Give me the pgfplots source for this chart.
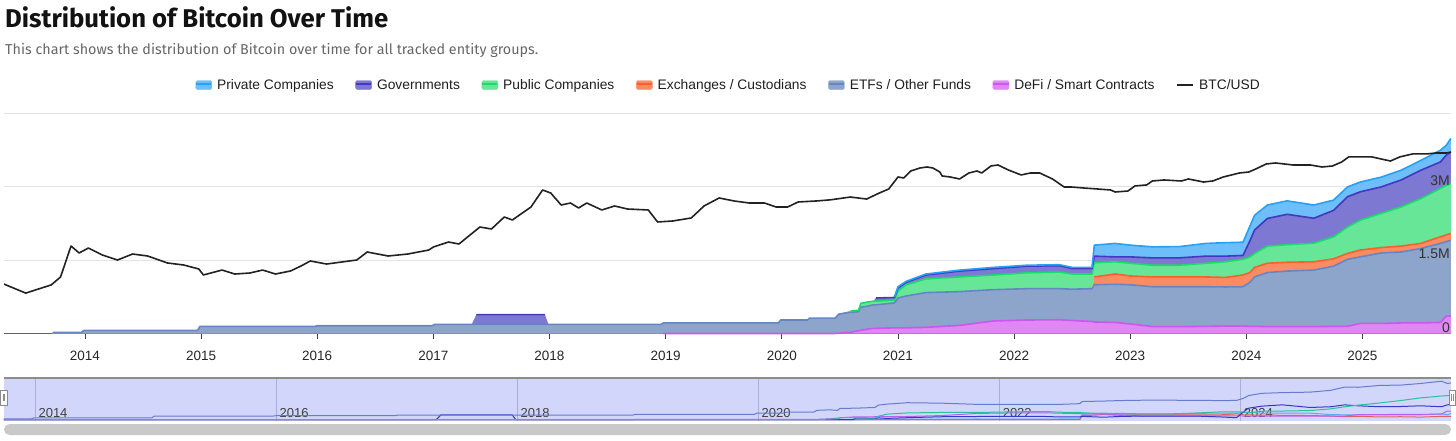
\documentclass[border=0pt]{standalone}
\usepackage{fontspec}
\setmainfont{Liberation Sans}
\newfontfamily\titlefont{Fira Sans}
\usepackage{graphicx}
\usepackage{pgfplots}
\pgfplotsset{compat=1.18}
\usepackage{pgfplotstable}

% entity holdings in million BTC, one column per group (stacked bottom to top)
\pgfplotstableread{
year     defi   etf    exch   pub    gov    priv
2013.715 0      0      0      0      0      0
2013.725 0      0.027  0      0      0      0
2013.97  0      0.027  0      0      0      0
2013.99  0      0.067  0      0      0      0
2014.97  0      0.067  0      0      0      0
2014.99  0      0.15   0      0      0      0
2015.98  0      0.15   0      0      0      0
2016.00  0      0.163  0      0      0      0
2016.99  0      0.163  0      0      0      0
2017.01  0      0.19   0      0      0      0
2017.33  0      0.19   0      0      0      0
2017.37  0      0.19   0      0      0.20   0
2017.96  0      0.19   0      0      0.20   0
2017.99  0      0.19   0      0      0      0
2018.96  0      0.19   0      0      0      0
2018.98  0.005  0.215  0      0      0      0
2019.97  0.005  0.215  0      0      0      0
2019.99  0.005  0.275  0      0      0      0
2020.22  0.005  0.275  0      0      0      0
2020.24  0.005  0.315  0      0      0      0
2020.46  0.005  0.315  0      0      0      0
2020.49  0.01   0.39   0      0      0      0
2020.59  0.03   0.41   0      0.02   0      0
2020.66  0.06   0.39   0      0.03   0      0
2020.68  0.07   0.47   0      0.08   0      0
2020.73  0.09   0.47   0      0.085  0      0
2020.79  0.11   0.48   0      0.075  0      0
2020.81  0.11   0.48   0      0.075  0.065  0
2020.97  0.12   0.51   0      0.06   0.05   0.01
2021.00  0.12   0.61   0      0.14   0.07   0.02
2021.07  0.12   0.65   0      0.23   0.05   0.02
2021.24  0.13   0.71   0      0.28   0.08   0.02
2021.53  0.17   0.69   0      0.30   0.12   0.02
2021.82  0.26   0.64   0      0.30   0.13   0.025
2022.11  0.28   0.64   0      0.325  0.135  0.02
2022.39  0.285  0.635  0      0.34   0.13   0.02
2022.50  0.27   0.64   0      0.31   0.11   0.025
2022.67  0.25   0.67   0      0.30   0.11   0.025
2022.69  0.24   0.76   0.16   0.29   0.135  0.225
2022.87  0.23   0.78   0.21   0.25   0.10   0.275
2023.00  0.20   0.80   0.18   0.26   0.13   0.24
2023.19  0.145  0.815  0.20   0.24   0.15   0.225
2023.42  0.145  0.815  0.20   0.24   0.15   0.23
2023.65  0.15   0.81   0.20   0.28   0.145  0.26
2023.82  0.155  0.80   0.195  0.32   0.115  0.275
2023.97  0.155  0.805  0.24   0.32   0.08   0.27
2024.03  0.15   0.90   0.20   0.32   0.33   0.30
2024.07  0.15   1.01   0.195  0.285  0.48   0.30
2024.18  0.145  1.105  0.19   0.35   0.565  0.275
2024.35  0.145  1.135  0.18   0.36   0.62   0.275
2024.58  0.145  1.155  0.17   0.38   0.51   0.27
2024.75  0.15   1.23   0.15   0.45   0.54   0.21
2024.87  0.15   1.37   0.12   0.54   0.62   0.20
2024.98  0.21   1.36   0.14   0.61   0.58   0.20
2025.16  0.21   1.44   0.11   0.70   0.54   0.20
2025.33  0.22   1.45   0.12   0.80   0.55   0.20
2025.50  0.22   1.52   0.105  0.915  0.58   0.20
2025.67  0.23   1.615  0.135  0.99   0.54   0.24
2025.72  0.36   1.52   0.14   1.01   0.62   0.20
2025.76  0.36   1.55   0.14   1.02   0.64   0.28
}\stackdata

% BTC/USD price
\pgfplotstableread{
year    price
2013.30 97
2013.49 58
2013.71 92
2013.79 144
2013.88 826
2013.95 557
2014.03 738
2014.15 498
2014.28 375
2014.41 526
2014.54 470
2014.71 317
2014.85 283
2014.98 226
2015.02 161
2015.18 213
2015.29 170
2015.42 180
2015.53 213
2015.64 170
2015.77 202
2015.86 267
2015.94 355
2016.08 299
2016.34 375
2016.43 589
2016.61 470
2016.78 526
2016.96 659
2017.00 782
2017.13 1035
2017.22 925
2017.40 2415
2017.50 2158
2017.61 4246
2017.68 3589
2017.84 7464
2017.94 19500
2018.01 16450
2018.10 8356
2018.18 9354
2018.25 7063
2018.32 9354
2018.45 6310
2018.56 7907
2018.67 6668
2018.85 6310
2018.93 3206
2019.06 3390
2019.22 4018
2019.33 7907
2019.46 12415
2019.59 10470
2019.72 9354
2019.85 9354
2019.95 7464
2020.05 7464
2020.14 9908
2020.30 10500
2020.42 11200
2020.53 12400
2020.59 13100
2020.73 11700
2020.84 16500
2020.92 20600
2021.00 40600
2021.05 38400
2021.11 57000
2021.19 67500
2021.25 71400
2021.30 67500
2021.36 53800
2021.38 43000
2021.45 40600
2021.53 36300
2021.61 50900
2021.68 57000
2021.72 50900
2021.80 75500
2021.86 80000
2021.95 60300
2022.06 45500
2022.14 50900
2022.22 50900
2022.33 36300
2022.43 23100
2022.49 23100
2022.60 21800
2022.72 20600
2022.83 19500
2022.87 17400
2022.98 18400
2023.04 24500
2023.14 25900
2023.19 32400
2023.29 34300
2023.44 32400
2023.50 36300
2023.63 30600
2023.71 32400
2023.80 40600
2023.94 50900
2024.02 53800
2024.08 63800
2024.17 84600
2024.25 89500
2024.40 80000
2024.55 80000
2024.65 71400
2024.74 75500
2024.82 94800
2024.88 126000
2025.01 126000
2025.08 126000
2025.16 112000
2025.24 100000
2025.32 126000
2025.43 149000
2025.55 149000
2025.63 157000
2025.72 157000
2025.76 166000
}\btcdata

\definecolor{privfill}{RGB}{110,190,250}
\definecolor{privedge}{RGB}{40,160,245}
\definecolor{govfill}{RGB}{125,120,210}
\definecolor{govedge}{RGB}{70,55,195}
\definecolor{pubfill}{RGB}{102,230,150}
\definecolor{pubedge}{RGB}{25,220,105}
\definecolor{exchfill}{RGB}{250,140,100}
\definecolor{exchedge}{RGB}{250,95,45}
\definecolor{etffill}{RGB}{141,165,202}
\definecolor{etfedge}{RGB}{100,135,195}
\definecolor{defifill}{RGB}{225,135,245}
\definecolor{defiedge}{RGB}{205,85,240}
\definecolor{btcline}{RGB}{34,34,34}
\definecolor{gridgray}{RGB}{228,228,228}
\definecolor{axisgray}{RGB}{100,100,100}
\definecolor{subgray}{RGB}{102,102,102}
\definecolor{navbg}{RGB}{210,214,250}
\definecolor{navgrid}{RGB}{170,175,215}
\definecolor{navetf}{RGB}{100,125,205}
\definecolor{navpub}{RGB}{40,195,155}
\definecolor{navgov}{RGB}{55,55,200}
\definecolor{navexch}{RGB}{230,95,95}
\definecolor{navdefi}{RGB}{185,95,240}
\definecolor{navpriv}{RGB}{90,170,240}

\pgfplotsset{
  mainpos/.style={at={(4pt,-333.7pt)}, anchor=south west, scale only axis,
    width=1447pt, height=220.2pt,
    xmin=2013.303, xmax=2025.761},
  areaicon/.style n args={2}{legend image code/.code={
    \fill[#1, rounded corners=1.5pt] (0pt,-4.5pt) rectangle (16pt,4.5pt);
    \draw[#2, line width=1.6pt] (0.4pt,1.2pt) -- (15.6pt,1.2pt);}},
}

\begin{document}
\begin{tikzpicture}
\path[use as bounding box] (0pt,0pt) rectangle (1456pt,-440pt);

\node[anchor=base west, inner sep=0pt] at (5pt,-27.3pt)
  {\resizebox{383pt}{!}{\titlefont\bfseries\color{black!93}Distribution of Bitcoin Over Time}};
\node[anchor=base west, inner sep=0pt] at (5pt,-54pt)
  {\resizebox{533pt}{!}{\titlefont\color{subgray}This chart shows the distribution of Bitcoin over time for all tracked entity groups.}};

% stacked areas
\begin{axis}[mainpos, ymin=0, ymax=4.5,
  stack plots=y,
  axis x line*=bottom, axis y line*=left,
  x axis line style={draw=axisgray, line width=1.5pt, -},
  y axis line style={draw=none},
  xtick={2014,...,2025},
  xticklabels={2014,2015,2016,2017,2018,2019,2020,2021,2022,2023,2024,2025},
  xtick pos=bottom, tick align=outside, major tick length=5pt,
  xtick style={draw=black!75, line width=0.8pt},
  xticklabel style={font=\fontsize{13.5}{16}\selectfont, text=black!85, yshift=-8.5pt},
  ytick={1.5,3,4.5}, yticklabels={}, ytick style={draw=none},
  ymajorgrids, grid style={gridgray, line width=0.9pt},
]
\addplot[fill=defifill, draw=none] table[x=year, y=defi] {\stackdata} \closedcycle;
\addplot[fill=etffill, draw=none] table[x=year, y=etf] {\stackdata} \closedcycle;
\addplot[fill=exchfill, draw=none] table[x=year, y=exch] {\stackdata} \closedcycle;
\addplot[fill=pubfill, draw=none] table[x=year, y=pub] {\stackdata} \closedcycle;
\addplot[fill=govfill, draw=none] table[x=year, y=gov] {\stackdata} \closedcycle;
\addplot[fill=privfill, draw=none] table[x=year, y=priv] {\stackdata} \closedcycle;
\end{axis}

% top edge of each layer, only where the group holds coins
\begin{axis}[mainpos, ymin=0, ymax=4.5, hide axis, clip=false,
  unbounded coords=jump,
  every axis plot/.append style={line width=1.6pt, mark=none, line join=round},
]
\addplot[defiedge, restrict expr to domain={\thisrow{defi}}{0.001:100}]
  table[x=year, y=defi] {\stackdata};
\addplot[etfedge, restrict expr to domain={\thisrow{etf}}{0.001:100}]
  table[x=year, y expr=\thisrow{defi}+\thisrow{etf}] {\stackdata};
\addplot[exchedge, restrict expr to domain={\thisrow{exch}}{0.001:100}]
  table[x=year, y expr=\thisrow{defi}+\thisrow{etf}+\thisrow{exch}] {\stackdata};
\addplot[pubedge, restrict expr to domain={\thisrow{pub}}{0.001:100}]
  table[x=year, y expr=\thisrow{defi}+\thisrow{etf}+\thisrow{exch}+\thisrow{pub}] {\stackdata};
\addplot[govedge, restrict expr to domain={\thisrow{gov}}{0.001:100}]
  table[x=year, y expr=\thisrow{defi}+\thisrow{etf}+\thisrow{exch}+\thisrow{pub}+\thisrow{gov}] {\stackdata};
\addplot[privedge, restrict expr to domain={\thisrow{priv}}{0.001:100}]
  table[x=year, y expr=\thisrow{defi}+\thisrow{etf}+\thisrow{exch}+\thisrow{pub}+\thisrow{gov}+\thisrow{priv}] {\stackdata};
\end{axis}

% BTC/USD on its own log scale
\begin{axis}[mainpos, ymode=log, ymin=5.86, ymax=1.46e6, hide axis]
\addplot[btcline, line width=1.6pt, mark=none, line join=round] table[x=year, y=price] {\btcdata};
\end{axis}

% y labels inside the plot, right aligned
\begin{axis}[mainpos, ymin=0, ymax=4.5,
  hide x axis, axis line style={draw=none},
  ytick={0,1.5,3}, yticklabels={0,1.5M,3M},
  yticklabel pos=right, ytick style={draw=none},
  yticklabel style={anchor=south east, inner sep=1pt,
    font=\fontsize{14}{16}\selectfont, text=black!80},
]
\end{axis}

% legend
\begin{axis}[at={(0pt,-440pt)}, anchor=south west, scale only axis,
  width=1456pt, height=440pt, hide axis,
  xmin=0, xmax=1, ymin=0, ymax=1,
  legend columns=7, legend cell align=left,
  legend style={at={(0.4997,0.8068)}, anchor=center, draw=none, fill=none,
    font=\fontsize{13.8}{16}\selectfont, text=black!88, inner sep=0pt,
    nodes={inner sep=0pt},
    /tikz/every odd column/.append style={column sep=5pt},
    /tikz/every even column/.append style={column sep=21.5pt}},
]
\addlegendimage{areaicon={privfill}{privedge}}
\addlegendentry{Private Companies}
\addlegendimage{areaicon={govfill}{govedge}}
\addlegendentry{Governments}
\addlegendimage{areaicon={pubfill}{pubedge}}
\addlegendentry{Public Companies}
\addlegendimage{areaicon={exchfill}{exchedge}}
\addlegendentry{Exchanges / Custodians}
\addlegendimage{areaicon={etffill}{etfedge}}
\addlegendentry{ETFs / Other Funds}
\addlegendimage{areaicon={defifill}{defiedge}}
\addlegendentry{DeFi / Smart Contracts}
\addlegendimage{legend image code/.code={\draw[btcline, line width=2pt] (0pt,0pt) -- (16pt,0pt);}}
\addlegendentry{BTC/USD}
\end{axis}

% navigator
\begin{axis}[at={(4pt,-421pt)}, anchor=south west, scale only axis,
  width=1447pt, height=43pt,
  xmin=2013.744, xmax=2025.75, ymin=-0.06, ymax=1.75,
  axis background/.style={fill=navbg},
  axis line style={draw=none},
  xtick={2014,2016,...,2024},
  xticklabels={2014,2016,2018,2020,2022,2024},
  xmajorgrids, grid style={navgrid, line width=0.7pt},
  xticklabel style={anchor=south west, inner sep=3.5pt,
    font=\fontsize{13}{15}\selectfont, text=black!75},
  ytick=\empty, tick style={draw=none},
  every axis plot/.append style={line width=1pt, mark=none},
]
\addplot[navpriv] table[x=year, y=priv] {\stackdata};
\addplot[navexch] table[x=year, y=exch] {\stackdata};
\addplot[navdefi] table[x=year, y=defi] {\stackdata};
\addplot[navgov] table[x=year, y=gov] {\stackdata};
\addplot[navpub] table[x=year, y=pub] {\stackdata};
\addplot[navetf] table[x=year, y=etf] {\stackdata};
\end{axis}
\draw[black!45, line width=1.3pt] (4pt,-378pt) -- (1451pt,-378pt);
\filldraw[fill=white, draw=black!45, line width=0.7pt] (0.5pt,-390pt) rectangle (7pt,-405pt);
\draw[black!45, line width=0.6pt] (2.8pt,-394pt) -- (2.8pt,-401pt) (4.7pt,-394pt) -- (4.7pt,-401pt);
\filldraw[fill=white, draw=black!45, line width=0.7pt] (1449pt,-390pt) rectangle (1455.5pt,-405pt);
\draw[black!45, line width=0.6pt] (1451.3pt,-394pt) -- (1451.3pt,-401pt) (1453.2pt,-394pt) -- (1453.2pt,-401pt);
\fill[black!21, rounded corners=5.5pt] (4pt,-424pt) rectangle (1451pt,-435pt);
\end{tikzpicture}
\end{document}
